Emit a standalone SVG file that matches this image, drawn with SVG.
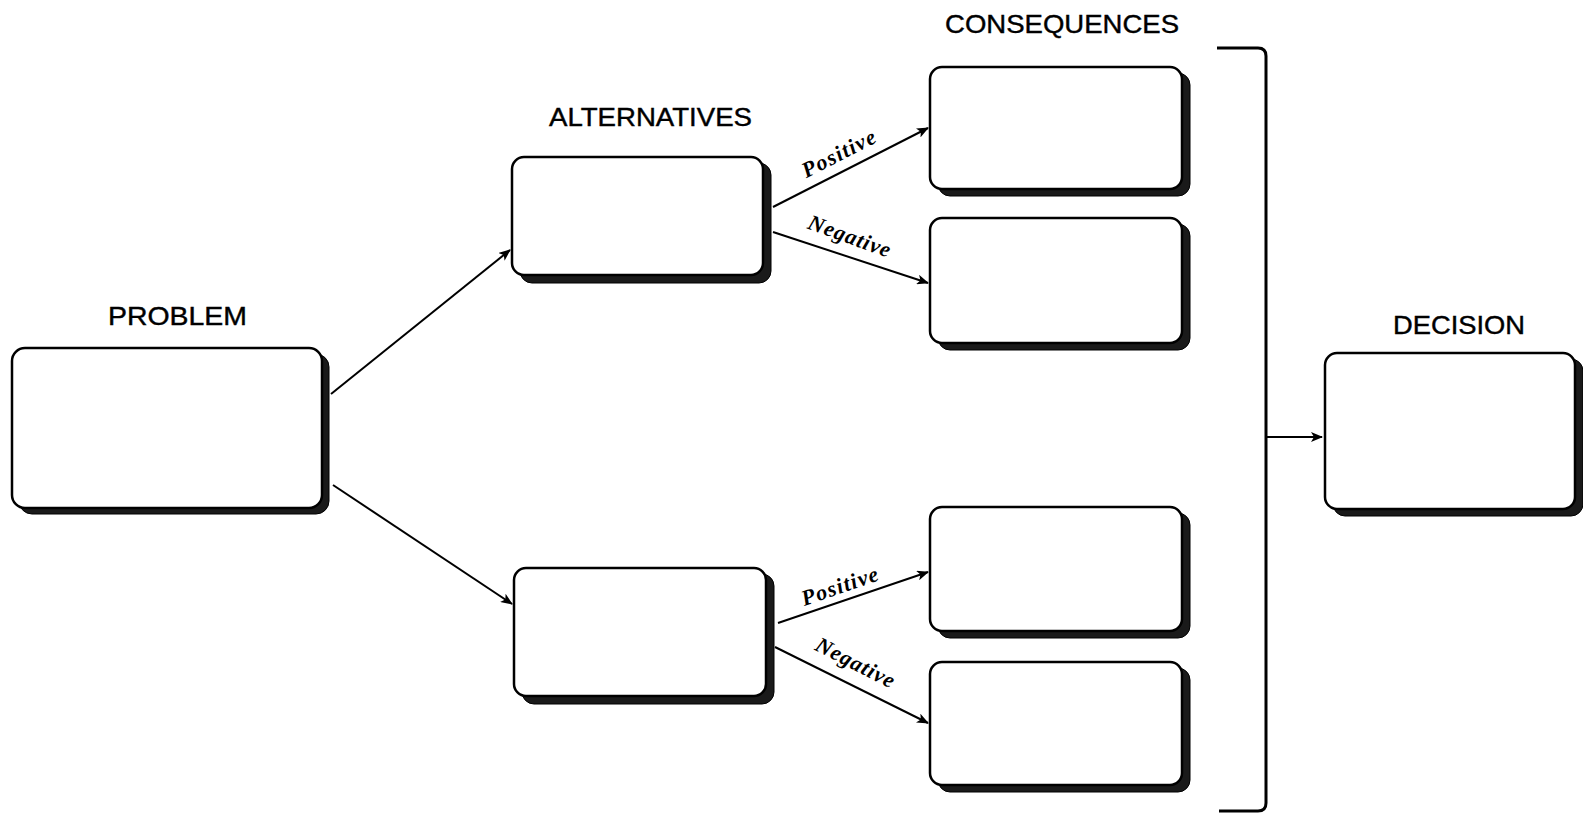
<svg xmlns="http://www.w3.org/2000/svg" width="1583" height="814" viewBox="0 0 1583 814">
<style>
.shadow{fill:#1a1a1a;stroke:#000;stroke-width:1}
.box{fill:#fff;stroke:#000;stroke-width:2.5}
.head{font-family:"Liberation Sans",Arial,sans-serif;font-size:25px;fill:#000;stroke:#000;stroke-width:0.4;text-anchor:start}
.lbl{font-family:"Liberation Serif","Times New Roman",serif;font-size:22px;font-weight:bold;font-style:italic;fill:#000}
.conn{fill:none;stroke:#000;stroke-width:2}
</style>
<defs>
<marker id="arr" viewBox="0 0 12 10" refX="11" refY="5" markerWidth="12" markerHeight="10" markerUnits="userSpaceOnUse" orient="auto">
<path d="M0,0 L12,5 L0,10 L3,5 Z" fill="#000"/>
</marker>
</defs>
<rect width="1583" height="814" fill="#fff"/>

<g id="problem">
<rect class="shadow" x="19" y="354" width="310" height="160" rx="13"/>
<rect class="box" x="12" y="348" width="310" height="160" rx="13"/>
<text class="head" x="108" y="325" textLength="139" lengthAdjust="spacingAndGlyphs">PROBLEM</text>
</g>

<g id="alt1">
<rect class="shadow" x="520" y="163" width="251" height="120" rx="12"/>
<rect class="box" x="512" y="157" width="251" height="118" rx="12"/>
<text class="head" x="549" y="126" textLength="203" lengthAdjust="spacingAndGlyphs">ALTERNATIVES</text>
</g>

<g id="alt2">
<rect class="shadow" x="522" y="574" width="252" height="130" rx="12"/>
<rect class="box" x="514" y="568" width="252" height="128" rx="12"/>
</g>

<g id="cons1">
<rect class="shadow" x="938" y="73" width="252" height="123" rx="12"/>
<rect class="box" x="930" y="67" width="252" height="122" rx="12"/>
<text class="head" x="945" y="33" textLength="234" lengthAdjust="spacingAndGlyphs">CONSEQUENCES</text>
</g>

<g id="cons2">
<rect class="shadow" x="938" y="224" width="252" height="126" rx="12"/>
<rect class="box" x="930" y="218" width="252" height="125" rx="12"/>
</g>

<g id="cons3">
<rect class="shadow" x="938" y="513" width="252" height="125" rx="12"/>
<rect class="box" x="930" y="507" width="252" height="124" rx="12"/>
</g>

<g id="cons4">
<rect class="shadow" x="938" y="668" width="252" height="124" rx="12"/>
<rect class="box" x="930" y="662" width="252" height="123" rx="12"/>
</g>

<g id="decision">
<rect class="shadow" x="1333" y="359" width="250" height="157" rx="12"/>
<rect class="box" x="1325" y="353" width="250" height="156" rx="12"/>
<text class="head" x="1393" y="334" textLength="132" lengthAdjust="spacingAndGlyphs">DECISION</text>
</g>

<g id="connectors">
<line class="conn" x1="331" y1="394" x2="510" y2="250" marker-end="url(#arr)"/>
<line class="conn" x1="333" y1="485" x2="512" y2="604" marker-end="url(#arr)"/>
<line class="conn" x1="773" y1="207" x2="928" y2="128" marker-end="url(#arr)"/>
<line class="conn" x1="773" y1="232" x2="928" y2="283" marker-end="url(#arr)"/>
<line class="conn" x1="778" y1="623" x2="928" y2="572" marker-end="url(#arr)"/>
<line class="conn" x1="775" y1="647" x2="928" y2="723" marker-end="url(#arr)"/>
<path d="M1217,48 L1258,48 Q1266,48 1266,56 L1266,803 Q1266,811 1258,811 L1219,811" fill="none" stroke="#000" stroke-width="3"/>
<line class="conn" x1="1266" y1="437" x2="1322" y2="437" marker-end="url(#arr)"/>
</g>

<g id="labels">
<text class="lbl" transform="translate(842,160) rotate(-27)" text-anchor="middle" textLength="80" lengthAdjust="spacing">Positive</text>
<text class="lbl" transform="translate(847,243) rotate(20)" text-anchor="middle" textLength="86" lengthAdjust="spacing">Negative</text>
<text class="lbl" transform="translate(842,593) rotate(-19)" text-anchor="middle" textLength="80" lengthAdjust="spacing">Positive</text>
<text class="lbl" transform="translate(852,669) rotate(27)" text-anchor="middle" textLength="86" lengthAdjust="spacing">Negative</text>
</g>
</svg>
